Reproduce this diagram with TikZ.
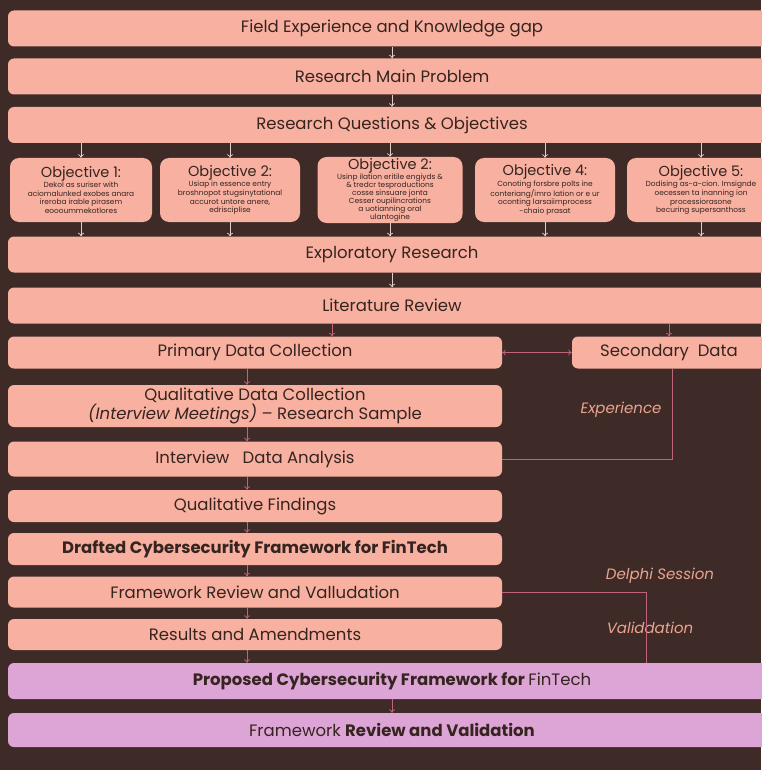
\documentclass[tikz,border=0pt]{standalone}
\usepackage{fontspec}
\setmainfont{Poppins}
\usepackage{xcolor}
\usepackage{tikz}
\usetikzlibrary{shapes,arrows,arrows.meta,positioning,calc}

\definecolor{bgbrown}{HTML}{3E2B27}
\definecolor{salmon}{HTML}{F8B0A0}
\definecolor{orchid}{HTML}{DDA4D6}
\definecolor{inkdark}{HTML}{35241F}
\definecolor{linkpink}{HTML}{C0637E}
\definecolor{linklight}{HTML}{E6CCC4}
\definecolor{notepeach}{HTML}{EBA48F}

\begin{document}
\begin{tikzpicture}[x=1pt,y=-1pt, >={To[length=3.5pt,width=6pt]},
    stage/.style={rectangle, rounded corners=6pt, fill=salmon, text=inkdark, inner sep=0pt, align=center, font=\fontsize{16.5}{19}\selectfont},
    wide/.style={stage, minimum width=768pt, minimum height=36pt},
    half/.style={stage, minimum width=494pt, minimum height=32pt},
    objbox/.style={stage, rounded corners=9pt, minimum width=142pt, minimum height=64pt, font=\fontsize{7.4}{8.6}\selectfont},
    final/.style={wide, fill=orchid},
    flow/.style={draw=linkpink, line width=0.7pt, ->},
    flowlight/.style={draw=linklight, line width=0.7pt, ->},
    link/.style={draw=linkpink, line width=0.8pt},
    note/.style={text=notepeach, font=\fontsize{15}{17}\selectfont\itshape}]
\fill[bgbrown] (0,0) rectangle (761,770);
\useasboundingbox (0,0) rectangle (761,770);

\node[wide] (gap) at (392,28.5) {Field Experience and Knowledge gap};
\node[wide] (problem) at (392,76.5) {Research Main Problem};
\node[wide] (questions) at (392,125) {Research Questions \& Objectives};

\node[objbox] (obj1) at (81,190) {{\fontsize{14.5}{17}\selectfont Objective 1:}\\
    Dekol as suriser with\\ aciomalunked exobes anara\\ ireroba irable pirasem\\ eoooummekotlores};
\node[objbox, minimum width=140pt] (obj2) at (230,190) {{\fontsize{14.5}{17}\selectfont Objective 2:}\\
    Usiap in essence entry\\ broshnopot stugsinytational\\ accurot untore anere,\\ edrisciplise};
\node[objbox, minimum width=145pt, minimum height=66pt, font=\fontsize{7.4}{8}\selectfont] (obj3) at (390,190) {{\fontsize{14.5}{14}\selectfont Objective 2:}\\
    Usinp ilation eritile engiyds \&\\ \& tredcr tesproductions\\ cosse sinsuare jonta\\ Cesser oupilincrations\\ a uotianning oral\\ ulantogine};
\node[objbox, minimum width=140pt] (obj4) at (545,190) {{\fontsize{14.5}{17}\selectfont Objective 4:}\\
    Conoting forsbre polts ine\\ conteriang/imro lation or e ur\\ oconting larsaiimprocess\\ -chaio prasat};
\node[objbox, minimum width=148pt] (obj5) at (701,190) {{\fontsize{14.5}{17}\selectfont Objective 5:}\\
    Dodising as-a-cion. Imsignde\\ oecessen ta inanning ion\\ processiorasone\\ becuring supersanthoss};

\node[wide] (explore) at (392,254.5) {Exploratory Research};
\node[wide] (litreview) at (392,305.5) {Literature Review};

\node[half] (primary) at (255,352.5) {Primary Data Collection};
\node[stage, minimum width=194pt, minimum height=32pt] (secondary) at (669,352.5) {Secondary~~Data};
\node[half, minimum height=42pt, font=\fontsize{16.5}{16}\selectfont] (qualcoll) at (255,406) {Qualitative Data Collection\\
    \textit{(Interview Meetings)} -- Research Sample};
\node[half, minimum height=35pt] (analysis) at (255,459) {Interview~~~Data Analysis};
\node[half] (findings) at (255,506) {Qualitative Findings};
\node[half] (drafted) at (255,549) {\bfseries Drafted Cybersecurity Framework for FinTech};
\node[half, minimum height=31pt] (review) at (255,592) {Framework Review and Valludation};
\node[half, minimum height=31pt] (results) at (255,634.5) {Results and Amendments};

\node[final] (proposed) at (392,681) {\bfseries Proposed Cybersecurity Framework for \mdseries FinTech};
\node[final, minimum height=34pt] (validation) at (392,730) {Framework \bfseries Review and Validation};

\node[note] (experience) at (621,410) {Experience};
\node[note] (delphi) at (660,576) {Delphi Session};
\node[note] (valnote) at (650,628) {Validdation};

% turning points and spines
\coordinate (leftspine) at (247,0);
\coordinate (litsplit) at (332,0);
\coordinate (expcorner) at (672,0);
\coordinate (valcorner) at (646,0);

\draw[flowlight] (gap) -- (problem);
\draw[flowlight] (problem) -- (questions);
\foreach \o in {obj1,obj2,obj3,obj4,obj5} {
    \draw[flowlight] (questions.south -| \o) -- (\o);
    \draw[flowlight] (\o) -- (explore.north -| \o);
}
\draw[flowlight] (explore) -- (litreview);
\draw[flow] (litreview.south -| litsplit) -- (primary.north -| litsplit);
\draw[flow] (litreview.south -| secondary) -- (secondary);
\draw[flow, <->] (primary) -- (secondary);
\draw[flow] (primary.south -| leftspine) -- (qualcoll.north -| leftspine);
\draw[flow] (qualcoll.south -| leftspine) -- (analysis.north -| leftspine);
\draw[flow] (analysis.south -| leftspine) -- (findings.north -| leftspine);
\draw[flow] (findings.south -| leftspine) -- (drafted.north -| leftspine);
\draw[flow] (drafted.south -| leftspine) -- (review.north -| leftspine);
\draw[flow] (review.south -| leftspine) -- (results.north -| leftspine);
\draw[flow] (results.south -| leftspine) -- (proposed.north -| leftspine);
\draw[flow] (proposed) -- (validation);

\draw[link] (secondary.south -| expcorner) |- (analysis.east);
\draw[link] (review.east) -| (proposed.north -| valcorner);
\end{tikzpicture}
\end{document}
